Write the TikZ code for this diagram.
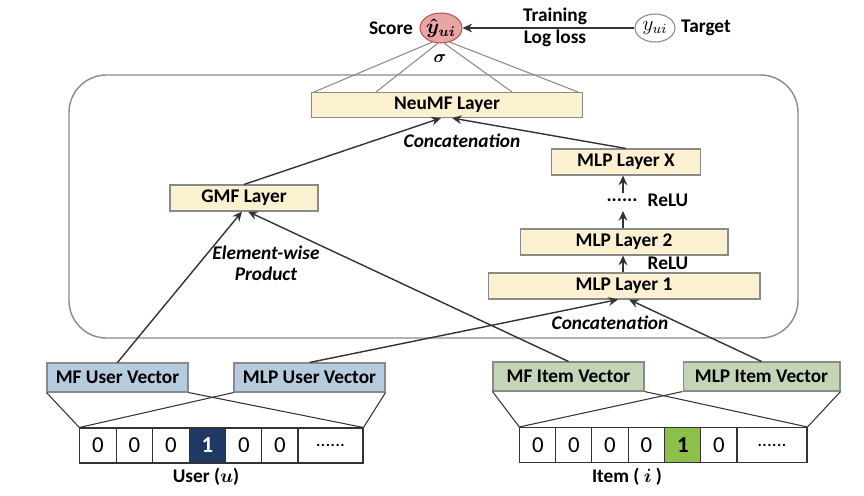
\documentclass[tikz,border=0pt]{standalone}
\usepackage{amsmath,amssymb}
\usepackage{fontspec}
\setmainfont{Carlito}
\usetikzlibrary{shapes.geometric,arrows.meta,calc}
\definecolor{layerfill}{HTML}{FBF0CF}
\definecolor{userfill}{HTML}{B7CBDF}
\definecolor{itemfill}{HTML}{C4D4B7}
\definecolor{boxline}{HTML}{8A8A8A}
\definecolor{scorefill}{HTML}{E9A5A5}
\definecolor{scoreline}{HTML}{B85450}
\definecolor{navycell}{HTML}{1F3864}
\definecolor{greencell}{HTML}{8DC04A}
\definecolor{conn}{HTML}{333333}
\tikzset{
  layer/.style={draw=boxline, fill=layerfill, line width=0.6pt, inner sep=0pt,
    minimum height=0.5cm, font=\fontsize{11}{13}\selectfont\bfseries},
  uvec/.style={draw=boxline, fill=userfill, line width=0.6pt, inner sep=0pt,
    minimum height=0.58cm, font=\fontsize{11}{13}\selectfont\bfseries},
  ivec/.style={draw=boxline, fill=itemfill, line width=0.6pt, inner sep=0pt,
    minimum height=0.58cm, font=\fontsize{11}{13}\selectfont\bfseries},
  cell/.style={draw=conn, fill=white, line width=0.6pt, inner sep=0pt,
    minimum width=0.727cm, minimum height=0.7cm, font=\fontsize{13}{15}\selectfont},
  lbl/.style={inner sep=1pt, font=\fontsize{11}{13}\selectfont\bfseries},
  ilbl/.style={inner sep=1pt, font=\fontsize{11}{13}\selectfont\bfseries\itshape},
  arr/.style={draw=conn, line width=0.8pt, -{Stealth[length=5.5pt,width=5pt]}},
  fan/.style={draw=conn, line width=0.6pt},
  thin/.style={draw=boxline, line width=0.6pt},
}
\begin{document}
\begin{tikzpicture}[x=0.02cm,y=-0.02cm]
\useasboundingbox (0,0) rectangle (864,495);
% big rounded frame
\draw[draw=boxline, line width=0.8pt, rounded corners=0.75cm] (69,75) rectangle (798,338);

% top: score and target
\node[ellipse, draw=scoreline, fill=scorefill, line width=0.6pt, minimum width=0.78cm, minimum height=0.6cm, inner sep=0pt, font=\fontsize{12}{14}\selectfont] (yhat) at (441,28) {$\boldsymbol{\hat{y}_{ui}}$};
\node[ellipse, draw=boxline, fill=white, line width=0.6pt, minimum width=0.8cm, minimum height=0.56cm, inner sep=0pt, font=\fontsize{12}{14}\selectfont] (y) at (655,28) {$y_{ui}$};
\node[lbl] (score) at (391,28) {Score};
\node[lbl] (target) at (706,28) {Target};
\node[lbl] (train) at (555,16) {Training};
\node[lbl] (logloss) at (555,38) {Log loss};
\node[inner sep=0pt] (sigma) at (440,59) {$\boldsymbol{\sigma}$};
\draw[arr] (y.west) -- (yhat.east);

% layers
\node[layer, minimum width=5.42cm] (neumf) at (447,105) {NeuMF Layer};
\node[layer, minimum width=2.96cm, minimum height=0.52cm] (gmf) at (244,198) {GMF Layer};
\node[layer, minimum width=2.98cm, minimum height=0.52cm] (mlpx) at (626,162) {MLP Layer X};
\node[layer, minimum width=4.16cm, minimum height=0.52cm] (mlp2) at (624,242) {MLP Layer 2};
\node[layer, minimum width=5.44cm, minimum height=0.52cm] (mlp1) at (624,286) {MLP Layer 1};

% sigma fan
\draw[thin] (yhat.238) -- ($(neumf.north west)+(3,0)$);
\draw[thin] (yhat.258) -- ($(neumf.north west)+(65,0)$);
\draw[thin] (yhat.282) -- ($(neumf.north west)+(201,0)$);
\draw[thin] (yhat.302) -- ($(neumf.north east)+(-5,0)$);

% labels
\node[ilbl] (concat1) at (462,141) {Concatenation};
\node[ilbl] (concat2) at (610,323) {Concatenation};
\node[ilbl, align=center] (ewp) at (266,263) {Element-wise\\[-1pt]Product};
\node[inner sep=0pt, font=\fontsize{11}{13}\selectfont\bfseries] (dots) at (622,200) {......};
\node[lbl] (relu1) at (668,200) {ReLU};
\node[lbl] (relu2) at (668,263) {ReLU};

% arrows in tower
\draw[arr] (gmf.north) -- ($(neumf.south)+(-6,0)$);
\draw[arr] (mlpx.north) -- ($(neumf.south)+(5,0)$);
\draw[arr] (623,193) -- (mlpx.south -| 623,0);
\draw[arr] (mlp2.north -| 623,0) -- (623,211);
\draw[arr] (mlp1.north -| 623,0) -- (mlp2.south -| 623,0);

% vectors
\node[uvec, minimum width=2.82cm] (mfu) at (117.5,377.5) {MF User Vector};
\node[uvec, minimum width=3.02cm] (mlpu) at (309.5,377.5) {MLP User Vector};
\node[ivec, minimum width=3.02cm] (mfi) at (568.5,376.5) {MF Item Vector};
\node[ivec, minimum width=3.14cm] (mlpi) at (761.5,376.5) {MLP Item Vector};

\draw[arr] (mfu.north) -- ($(gmf.south)+(-2,0)$);
\draw[arr] (mfi.north) -- ($(gmf.south)+(4,0)$);
\draw[arr] (mlpu.north) -- ($(mlp1.south)+(-6,0)$);
\draw[arr] (mlpi.north) -- ($(mlp1.south)+(5,0)$);

% user one-hot
\node[cell] (u1) at (98,445.5) {0};
\node[cell] (u2) at (134.5,445.5) {0};
\node[cell] (u3) at (171,445.5) {0};
\node[cell, fill=navycell, text=white, font=\fontsize{13}{15}\selectfont\bfseries] (u4) at (207.5,445.5) {1};
\node[cell] (u5) at (244,445.5) {0};
\node[cell] (u6) at (280,445.5) {0};
\node[cell, minimum width=1.3cm, font=\fontsize{11}{13}\selectfont] (u7) at (330.5,445.5) {......};
\node[lbl] (user) at (206,477) {User ($\boldsymbol{u}$)};

% item one-hot
\node[cell] (i1) at (538,445) {0};
\node[cell] (i2) at (574,445) {0};
\node[cell] (i3) at (610,445) {0};
\node[cell] (i4) at (646.5,445) {0};
\node[cell, fill=greencell, font=\fontsize{13}{15}\selectfont\bfseries] (i5) at (683,445) {1};
\node[cell] (i6) at (719,445) {0};
\node[cell, minimum width=1.4cm, font=\fontsize{11}{13}\selectfont] (i7) at (772,445) {......};
\node[lbl] (item) at (627,477) {Item ( $\boldsymbol{i}$ )};

% fans from vectors to one-hot
\draw[fan] (mfu.south west) -- (u1.north west);
\draw[fan] (mfu.south east) -- (u7.north east);
\draw[fan] (mlpu.south west) -- (u1.north west);
\draw[fan] (mlpu.south east) -- (u7.north east);
\draw[fan] (mfi.south west) -- (i1.north west);
\draw[fan] (mfi.south east) -- (i7.north east);
\draw[fan] (mlpi.south west) -- (i1.north west);
\draw[fan] (mlpi.south east) -- (i7.north east);
\end{tikzpicture}
\end{document}
